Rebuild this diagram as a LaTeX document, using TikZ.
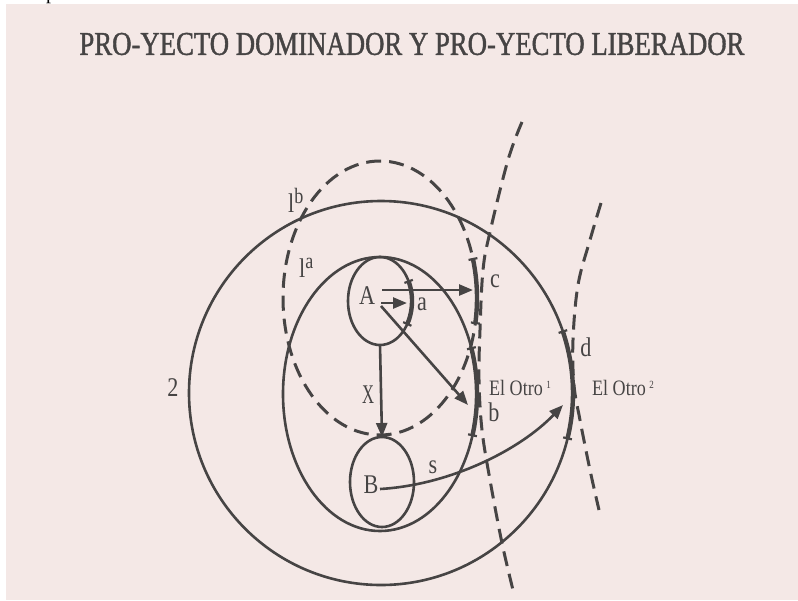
\documentclass[tikz,border=0pt]{standalone}
\usepackage{fontspec}
\setmainfont{Liberation Serif}
\newfontfamily\condfont[FakeStretch=0.82]{Liberation Serif}
\newfontfamily\titlefont[FakeStretch=0.82,FakeBold=1.2]{Liberation Serif}
\usetikzlibrary{arrows.meta,shapes.geometric}
\definecolor{bg}{RGB}{244,232,230}
\definecolor{ink}{RGB}{70,68,68}
\begin{document}
\begin{tikzpicture}[x=1pt,y=-1pt,
  solidline/.style={draw=ink, line width=2.6pt},
  dashline/.style={draw=ink, line width=3pt, dash pattern=on 15pt off 8pt},
  thickarc/.style={draw=ink, line width=4.4pt, {Bar[width=9pt,line width=2.2pt]}-{Bar[width=9pt,line width=2.2pt]}},
  arr/.style={draw=ink, line width=2.6pt, -{Triangle[length=14pt,width=11pt]}},
  lbl/.style={text=ink, inner sep=0pt, font=\condfont\fontsize{27}{27}\selectfont},
  slbl/.style={text=ink, inner sep=0pt, font=\condfont\fontsize{22}{22}\selectfont},
  ring/.style={ellipse, inner sep=0pt, outer sep=0pt},
]
\fill[white] (0,0) rectangle (798,600);
\fill[bg] (6,4) rectangle (798,600);
\useasboundingbox (0,0) rectangle (798,600);
\begin{scope}
\clip (0,0) rectangle (798,4);
\node[text=black, inner sep=0pt, anchor=base west, font=\fontsize{20}{20}\selectfont] (frag) at (46,-1) {p};
\end{scope}

% title
\node[text=ink, inner sep=0pt] (title) at (412,44)
  {\resizebox{665pt}{22pt}{\titlefont PRO-YECTO DOMINADOR Y PRO-YECTO LIBERADOR}};

% circles and ellipses
\node[ring, solidline, minimum width=384pt, minimum height=384pt] (two) at (381,393) {};
\node[ring, solidline, minimum width=194pt, minimum height=274pt] (onea) at (380,394) {};
\node[ring, dashline, minimum width=194pt, minimum height=274pt] (oneb) at (380,298) {};
\node[ring, solidline, minimum width=64pt, minimum height=88pt] (A) at (380,301) {};
\node[ring, solidline, minimum width=64pt, minimum height=90pt] (B) at (382,482) {};

% dashed outer curves
\draw[dashline] plot[smooth, tension=0.6] coordinates {(522,122) (508,160) (490,232) (483,270) (480,330) (479,380) (482,430) (490,480) (502,543) (513,590)};
\draw[dashline] plot[smooth, tension=0.6] coordinates {(601,203) (590,240) (578,285) (573,340) (574,385) (580,420) (590,470) (599,510)};

% thick arcs
\draw[thickarc] plot[domain=-28:33, samples=20] ({380+32*cos(\x)},{301+44*sin(\x)});
\draw[thickarc] plot[domain=-17:11, samples=20] ({380+97*cos(\x)},{298+137*sin(\x)});
\draw[thickarc] plot[domain=-20:18, samples=20] ({380+97*cos(\x)},{394+137*sin(\x)});
\draw[thickarc] plot[domain=-19:14, samples=20] ({381+192*cos(\x)},{393+192*sin(\x)});

% arrow endpoints
\coordinate (a1) at (382,290);
\coordinate (c1) at (473,290);
\coordinate (a2) at (381,303);
\coordinate (a2e) at (407,303);
\coordinate (a3) at (381,306);
\coordinate (b1) at (468,405);
\coordinate (s0) at (380,489);
\coordinate (d1) at (563,405);

\draw[arr] (a1) -- (c1);
\draw[arr] (a2) -- (a2e);
\draw[arr] (a3) -- (b1);
\draw[arr] (A.south) -- (B.north);
\draw[arr] (s0) .. controls (450,485) and (520,450) .. (d1);

% labels
\node[lbl] (lA) at (367,296) {A};
\node[lbl] (lB) at (371,485) {B};
\node[lbl] (la) at (422,304) {a};
\node[lbl] (lc) at (495,281) {c};
\node[lbl] (lb) at (494,412) {b};
\node[lbl] (ld) at (586,347) {d};
\node[lbl] (ls) at (433,467) {s};
\node[lbl] (lx) at (368,395) {\scalebox{0.75}[1]{X}};
\node[lbl] (l2) at (173,388) {2};
\node[lbl, anchor=base west] (l1b) at (288,212) {l\raisebox{9pt}{\fontsize{22}{22}\selectfont b}};
\node[lbl, anchor=base west] (l1a) at (299,277) {l\raisebox{9pt}{\fontsize{22}{22}\selectfont a}};
\node[slbl, anchor=base west] (o1) at (489,395) {El Otro\,\raisebox{7pt}{\fontsize{11}{11}\selectfont 1}};
\node[slbl, anchor=base west] (o2) at (592,395) {El Otro\,\raisebox{7pt}{\fontsize{11}{11}\selectfont 2}};
\end{tikzpicture}
\end{document}
